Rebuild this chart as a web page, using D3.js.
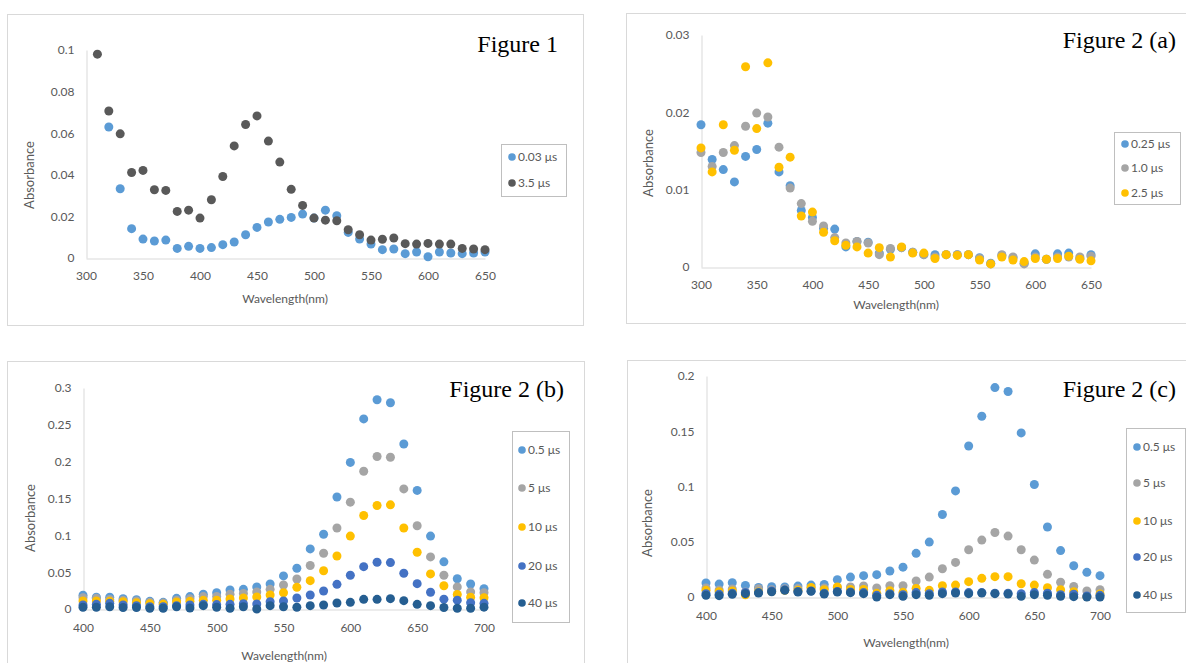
<!DOCTYPE html>
<html>
<head>
<meta charset="utf-8">
<script src="https://cdn.jsdelivr.net/npm/d3@7"></script>
<style>
  html, body { margin: 0; padding: 0; background: #fff; }
  svg { display: block; }
  .tick text { font-family: Lato, "Open Sans", sans-serif; font-size: 12px; fill: #595959; }
  .axis-title { font-family: Lato, "Open Sans", sans-serif; font-size: 13px; fill: #595959; }
  .axis-title.x-title { font-size: 12px; }
  .legend-text { font-family: Lato, "Open Sans", sans-serif; font-size: 12px; fill: #595959; }
  .fig-title { font-family: "Liberation Serif", "DejaVu Serif", serif; font-size: 24px; fill: #000; }
</style>
</head>
<body>
<svg id="chart" width="1186" height="663"></svg>
<script>
// ---------- Figure 1 ----------
const fig1Wavelengths = [310,320,330,340,350,360,370,380,390,400,410,420,430,440,450,460,470,480,490,500,
  510,520,530,540,550,560,570,580,590,600,610,620,630,640,650];
const fig1Series003 = [null,0.063,0.0333,0.0141,0.0091,0.0082,0.0086,0.0046,0.0056,0.0046,0.005,0.0064,0.0077,0.0112,0.0147,0.0173,0.0186,0.0195,0.0211,0.0192,
  0.023,0.0203,0.0123,0.0091,0.0067,0.004,0.0043,0.0021,0.0029,0.0006,0.0029,0.0024,0.0021,0.0024,0.0029];
const fig1Series35 = [0.098,0.0707,0.0597,0.0411,0.0421,0.0328,0.0325,0.0224,0.023,0.0192,0.028,0.0392,0.0539,0.0642,0.0683,0.0562,0.0461,0.033,0.0253,0.0192,
  0.0182,0.0179,0.0136,0.0112,0.0086,0.009,0.0096,0.0069,0.0067,0.007,0.0067,0.0067,0.0046,0.0043,0.004];
const fig1YTicks = [0,0.02,0.04,0.06,0.08,0.1];
const fig1XTicks = [300,350,400,450,500,550,600,650];
const fig1Names = ["0.03 μs","3.5 μs"];

// ---------- Figure 2 (a) ----------
const fig2aWavelengths = [300,310,320,330,340,350,360,370,380,390,400,410,420,430,440,450,460,470,480,490,
  500,510,520,530,540,550,560,570,580,590,600,610,620,630,640,650];
const fig2aSeries025 = [0.0184,0.0139,0.0126,0.011,0.0143,0.0152,0.0186,0.0123,0.0105,0.0073,0.0064,0.005,0.0049,0.0026,0.0033,0.0032,0.0018,0.0023,0.0025,0.0019,
  0.0016,0.0016,0.0016,0.0016,0.0016,0.0012,0.0005,0.0015,0.0012,0.0005,0.0017,0.001,0.0017,0.0018,0.0011,0.0016];
const fig2aSeries10 = [0.0148,0.013,0.0148,0.0157,0.0182,0.0199,0.0194,0.0155,0.0102,0.0082,0.0059,0.0053,0.0038,0.0031,0.0033,0.0031,0.0016,0.0024,0.0025,0.0019,
  0.0016,0.0013,0.0016,0.0016,0.0016,0.0011,0.0004,0.0016,0.0013,0.0004,0.0013,0.001,0.0013,0.0013,0.0013,0.0014];
const fig2aSeries25 = [0.0154,0.0123,0.0184,0.0151,0.0259,0.0179,0.0264,0.0129,0.0142,0.0066,0.0071,0.0045,0.0034,0.0028,0.0026,0.0018,0.0025,0.0013,0.0026,0.0018,
  0.0018,0.0011,0.0016,0.0015,0.0016,0.0009,0.0004,0.0013,0.0009,0.0007,0.0011,0.001,0.0011,0.0014,0.001,0.0008];
const fig2aYTicks = [0,0.01,0.02,0.03];
const fig2aXTicks = [300,350,400,450,500,550,600,650];
const fig2aNames = ["0.25 μs","1.0 μs","2.5 μs"];

// ---------- Figure 2 (b) ----------
const fig2bWavelengths = [400,410,420,430,440,450,460,470,480,490,500,510,520,530,540,550,560,570,580,590,
  600,610,620,630,640,650,660,670,680,690,700];
const fig2bSeries05 = [0.0186,0.0159,0.0159,0.014,0.0127,0.0104,0.009,0.0145,0.0168,0.02,0.022,0.0258,0.0267,0.03,0.034,0.0449,0.0553,0.0816,0.1015,0.152,
  0.199,0.258,0.284,0.28,0.224,0.161,0.099,0.064,0.041,0.034,0.0276];
const fig2bSeries5 = [0.0154,0.0145,0.013,0.012,0.011,0.009,0.008,0.012,0.014,0.0168,0.017,0.02,0.021,0.023,0.0267,0.0326,0.0408,0.059,0.0757,0.11,
  0.145,0.187,0.207,0.206,0.163,0.113,0.0707,0.0458,0.03,0.0232,0.022];
const fig2bSeries10 = [0.011,0.011,0.0104,0.01,0.0086,0.0072,0.0063,0.0095,0.0104,0.0118,0.012,0.0136,0.015,0.0163,0.019,0.022,0.0295,0.0385,0.052,0.072,
  0.099,0.127,0.1405,0.1414,0.11,0.077,0.0476,0.0315,0.0197,0.0159,0.0152];
const fig2bSeries20 = [0.0054,0.0063,0.0077,0.0054,0.0045,0.003,0.003,0.0045,0.0054,0.0063,0.006,0.0063,0.0072,0.0068,0.01,0.011,0.015,0.019,0.0245,0.0335,
  0.0458,0.0575,0.0634,0.063,0.0485,0.0344,0.0227,0.0134,0.012,0.0085,0.0077];
const fig2bSeries40 = [0.0023,0.0023,0.003,0.002,0.002,0.001,0.001,0.003,0.0014,0.0045,0.0023,0.001,0.003,0.0,0.0045,0.003,0.0023,0.0045,0.0054,0.0082,
  0.009,0.0131,0.0131,0.014,0.0113,0.0063,0.0045,0.002,0.001,0.001,0.0025];
const fig2bYTicks = [0,0.05,0.1,0.15,0.2,0.25,0.3];
const fig2bXTicks = [400,450,500,550,600,650,700];
const fig2bNames = ["0.5 μs","5 μs","10 μs","20 μs","40 μs"];

// ---------- Figure 2 (c) ----------
const fig2cWavelengths = [400,410,420,430,440,450,460,470,480,490,500,510,520,530,540,550,560,570,580,590,
  600,610,620,630,640,650,660,670,680,690,700];
const fig2cSeries05 = [0.0127,0.0117,0.013,0.0105,0.0087,0.0093,0.009,0.0099,0.0108,0.0114,0.0157,0.018,0.0193,0.0202,0.0235,0.027,0.0395,0.0497,0.0747,0.096,
  0.1367,0.1636,0.1895,0.186,0.1485,0.1018,0.0633,0.042,0.0283,0.0223,0.0193];
const fig2cSeries5 = [0.0081,0.0063,0.0072,0.0045,0.0075,0.0066,0.0075,0.0078,0.0081,0.0081,0.0087,0.009,0.01,0.0081,0.0102,0.0102,0.0145,0.018,0.0256,0.0313,
  0.0428,0.0515,0.0584,0.0551,0.0428,0.0334,0.0205,0.0133,0.0096,0.0054,0.0066];
const fig2cSeries10 = [0.006,0.0048,0.0055,0.002,0.0045,0.005,0.006,0.006,0.0087,0.0066,0.009,0.0069,0.0069,0.0033,0.0057,0.0042,0.0078,0.006,0.0102,0.0108,
  0.0139,0.0169,0.0184,0.0184,0.012,0.0108,0.0084,0.0066,0.0048,0.0003,0.0027];
const fig2cSeries20 = [0.003,0.0025,0.0035,0.004,0.004,0.0055,0.0065,0.005,0.0055,0.0035,0.005,0.0045,0.004,0.0015,0.003,0.002,0.004,0.003,0.0045,0.0045,
  0.004,0.004,0.0035,0.0035,0.003,0.004,0.0035,0.002,0.0025,0.001,0.0015];
const fig2cSeries40 = [0.0015,0.0012,0.0024,0.003,0.0036,0.0048,0.006,0.0045,0.0051,0.0027,0.0045,0.0039,0.003,0.0,0.0021,0.0006,0.0021,0.0015,0.003,0.0036,
  0.003,0.0036,0.003,0.0027,0.0006,0.0021,0.0015,0.0006,0.0003,0.0,0.0];
const fig2cYTicks = [0,0.05,0.1,0.15,0.2];
const fig2cXTicks = [400,450,500,550,600,650,700];
const fig2cNames = ["0.5 μs","5 μs","10 μs","20 μs","40 μs"];

// Office-style series colours
const C_BLUE = "#5B9BD5", C_GRAY = "#A5A5A5", C_GOLD = "#FFC000",
      C_BLUE2 = "#4472C4", C_NAVY = "#255E91", C_DARK = "#595959";

const svg = d3.select("#chart");

function drawPanel(cfg) {
  const g = svg.append("g");

  // chart frame
  g.append("rect")
    .attr("x", cfg.frame[0] + 0.5).attr("y", cfg.frame[1] + 0.5)
    .attr("width", cfg.frame[2] - cfg.frame[0]).attr("height", cfg.frame[3] - cfg.frame[1])
    .attr("fill", "#fff").attr("stroke", "#D9D9D9").attr("stroke-width", 1);

  const x = d3.scaleLinear().domain(cfg.xDomain).range([cfg.plot.left, cfg.plot.right]);
  const y = d3.scaleLinear().domain(cfg.yDomain).range([cfg.plot.bottom, cfg.plot.top]);
  const fmt = d => String(+d.toFixed(4));

  // y axis
  const ya = g.append("g")
    .attr("transform", `translate(${cfg.plot.left + 0.5},0)`)
    .call(d3.axisLeft(y).tickValues(cfg.yTicks).tickFormat(fmt).tickSize(0).tickPadding(12));
  ya.select(".domain").attr("stroke", "#D9D9D9");

  // x axis at zero
  const xa = g.append("g")
    .attr("transform", `translate(0,${y(0) + 0.5})`)
    .call(d3.axisBottom(x).tickValues(cfg.xTicks).tickFormat(fmt).tickSize(0).tickPadding(cfg.xPad));
  xa.select(".domain").attr("stroke", "#D9D9D9");

  // axis titles
  g.append("text").attr("class", "axis-title x-title")
    .attr("x", cfg.xTitle[0]).attr("y", cfg.xTitle[1])
    .attr("text-anchor", "middle").text("Wavelength(nm)");
  g.append("text").attr("class", "axis-title")
    .attr("transform", `translate(${cfg.yTitle[0]},${cfg.yTitle[1]}) rotate(-90)`)
    .attr("text-anchor", "middle").attr("dy", "0.35em").text("Absorbance");

  // scatter markers, drawn series by series so later series sit on top
  cfg.series.forEach(s => {
    const pts = cfg.wavelengths.map((w, i) => ({ w, v: s.values[i] })).filter(p => p.v != null);
    g.append("g").selectAll("circle").data(pts).join("circle")
      .attr("cx", p => x(p.w)).attr("cy", p => y(p.v))
      .attr("r", 4.5).attr("fill", s.color);
  });

  // legend
  const L = cfg.legend;
  g.append("rect")
    .attr("x", L.box[0] + 0.5).attr("y", L.box[1] + 0.5)
    .attr("width", L.box[2] - L.box[0]).attr("height", L.box[3] - L.box[1])
    .attr("fill", "#fff").attr("stroke", "#BFBFBF");
  cfg.series.forEach((s, i) => {
    g.append("circle").attr("cx", L.markerX).attr("cy", L.rows[i]).attr("r", 3.8).attr("fill", s.color);
    g.append("text").attr("class", "legend-text")
      .attr("x", L.markerX + 6).attr("y", L.rows[i]).attr("dy", "0.35em").text(s.name);
  });

  // figure label
  g.append("text").attr("class", "fig-title")
    .attr("x", cfg.title[0]).attr("y", cfg.title[1])
    .attr("text-anchor", "end").text(cfg.titleText);
}

drawPanel({
  frame: [7, 14, 583, 325],
  plot: { left: 86, right: 485, top: 50, bottom: 258 },
  xDomain: [300, 650], yDomain: [0, 0.1],
  xTicks: fig1XTicks, yTicks: fig1YTicks, xPad: 13,
  wavelengths: fig1Wavelengths,
  series: [
    { name: fig1Names[0], values: fig1Series003, color: C_BLUE },
    { name: fig1Names[1], values: fig1Series35, color: C_DARK }
  ],
  legend: { box: [501, 144, 566, 196], markerX: 512, rows: [157, 183] },
  xTitle: [285, 303], yTitle: [29, 175],
  title: [558, 52], titleText: "Figure 1"
});

drawPanel({
  frame: [626, 13, 1192, 323],
  plot: { left: 701, right: 1091, top: 35, bottom: 267 },
  xDomain: [300, 650], yDomain: [0, 0.03],
  xTicks: fig2aXTicks, yTicks: fig2aYTicks, xPad: 13,
  wavelengths: fig2aWavelengths,
  series: [
    { name: fig2aNames[0], values: fig2aSeries025, color: C_BLUE },
    { name: fig2aNames[1], values: fig2aSeries10, color: C_GRAY },
    { name: fig2aNames[2], values: fig2aSeries25, color: C_GOLD }
  ],
  legend: { box: [1114, 132, 1180, 204], markerX: 1125, rows: [144, 168, 193] },
  xTitle: [896, 309], yTitle: [648, 163],
  title: [1176, 48], titleText: "Figure 2 (a)"
});

drawPanel({
  frame: [7, 361, 584, 700],
  plot: { left: 83, right: 484, top: 388, bottom: 609 },
  xDomain: [400, 700], yDomain: [0, 0.3],
  xTicks: fig2bXTicks, yTicks: fig2bYTicks, xPad: 14,
  wavelengths: fig2bWavelengths,
  series: [
    { name: fig2bNames[0], values: fig2bSeries05, color: C_BLUE },
    { name: fig2bNames[1], values: fig2bSeries5, color: C_GRAY },
    { name: fig2bNames[2], values: fig2bSeries10, color: C_GOLD },
    { name: fig2bNames[3], values: fig2bSeries20, color: C_BLUE2 },
    { name: fig2bNames[4], values: fig2bSeries40, color: C_NAVY }
  ],
  legend: { box: [512, 431, 569, 622], markerX: 522, rows: [450, 488, 527, 566, 603] },
  xTitle: [284, 660], yTitle: [30, 518],
  title: [564, 397], titleText: "Figure 2 (b)"
});

drawPanel({
  frame: [627, 360, 1192, 700],
  plot: { left: 706, right: 1100, top: 376, bottom: 597 },
  xDomain: [400, 700], yDomain: [0, 0.2],
  xTicks: fig2cXTicks, yTicks: fig2cYTicks, xPad: 14,
  wavelengths: fig2cWavelengths,
  series: [
    { name: fig2cNames[0], values: fig2cSeries05, color: C_BLUE },
    { name: fig2cNames[1], values: fig2cSeries5, color: C_GRAY },
    { name: fig2cNames[2], values: fig2cSeries10, color: C_GOLD },
    { name: fig2cNames[3], values: fig2cSeries20, color: C_BLUE2 },
    { name: fig2cNames[4], values: fig2cSeries40, color: C_NAVY }
  ],
  legend: { box: [1126, 428, 1185, 612], markerX: 1137, rows: [447, 483, 521, 557, 595] },
  xTitle: [906, 647], yTitle: [647, 523],
  title: [1176, 397], titleText: "Figure 2 (c)"
});
</script>
</body>
</html>
